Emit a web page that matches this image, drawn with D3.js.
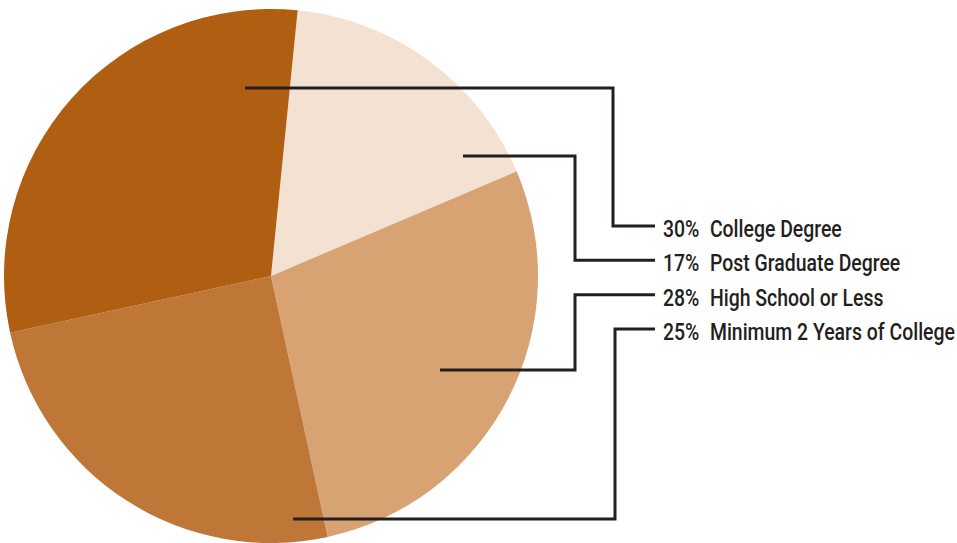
<!DOCTYPE html>
<html>
<head>
<meta charset="utf-8">
<script src="https://cdn.jsdelivr.net/npm/d3@7"></script>
<style>
  body { margin: 0; background: #fff; }
  text { font-family: Roboto, "DejaVu Sans Condensed", sans-serif; font-weight: 500; }
</style>
</head>
<body>
<div id="chart"></div>
<script>
// data, in the order the slices run clockwise
const categories = ["Post Graduate Degree", "High School or Less", "Minimum 2 Years of College", "College Degree"];
const percents = [17, 28, 25, 30];
const colors = ["#f3e1d1", "#d8a373", "#be7737", "#b05f12"];
// legend order (top to bottom)
const legendOrder = ["College Degree", "Post Graduate Degree", "High School or Less", "Minimum 2 Years of College"];

const width = 957, height = 543;
const cx = 271, cy = 276, radius = 267;

// leader lines: anchor inside the slice and the x of the vertical run
const leaders = {
  "College Degree":             {ax: 245, ay: 88,  elbow: 613},
  "Post Graduate Degree":       {ax: 463, ay: 156, elbow: 575},
  "High School or Less":        {ax: 440, ay: 370, elbow: 575},
  "Minimum 2 Years of College": {ax: 293, ay: 519, elbow: 615}
};

const svg = d3.select("#chart")
  .append("svg")
    .attr("width", width)
    .attr("height", height);

const data = categories.map((c, i) => ({name: c, value: percents[i], color: colors[i]}));

const start = 0.1; // first edge sits just right of 12 o'clock
const pie = d3.pie()
  .sort(null)
  .value(d => d.value)
  .startAngle(start)
  .endAngle(start + 2 * Math.PI);

const arc = d3.arc().innerRadius(0).outerRadius(radius);

const g = svg.append("g").attr("transform", `translate(${cx}, ${cy})`);
g.selectAll("path")
  .data(pie(data))
  .enter()
  .append("path")
    .attr("d", arc)
    .attr("fill", d => d.data.color);

// legend rows
const rowY = d3.scalePoint()
  .domain(legendOrder)
  .range([226, 329]);
const textX = 663;

const lineGen = d3.line();
legendOrder.forEach(name => {
  const L = leaders[name];
  const y = rowY(name);
  svg.append("path")
    .attr("d", lineGen([[L.ax, L.ay], [L.elbow, L.ay], [L.elbow, y], [655, y]]))
    .attr("fill", "none")
    .attr("stroke", "#231f20")
    .attr("stroke-width", 3)
    .attr("stroke-linejoin", "miter");
});

const labels = svg.append("g");
const texts = labels.selectAll("text")
  .data(legendOrder)
  .enter()
  .append("text")
    .attr("x", textX)
    .attr("y", d => rowY(d) + 11)
    .attr("font-size", 24)
    .attr("fill", "#231f20");
texts.append("tspan").text(d => percents[categories.indexOf(d)] + "%");
texts.append("tspan").attr("dx", 13).text(d => d);

// squeeze to the width of the reference labels
let maxW = 0;
texts.each(function() { maxW = Math.max(maxW, this.getComputedTextLength() + 13); });
const sx = 292 / maxW;
labels.attr("transform", `translate(${textX * (1 - sx)}, 0) scale(${sx}, 1)`);
</script>
</body>
</html>
